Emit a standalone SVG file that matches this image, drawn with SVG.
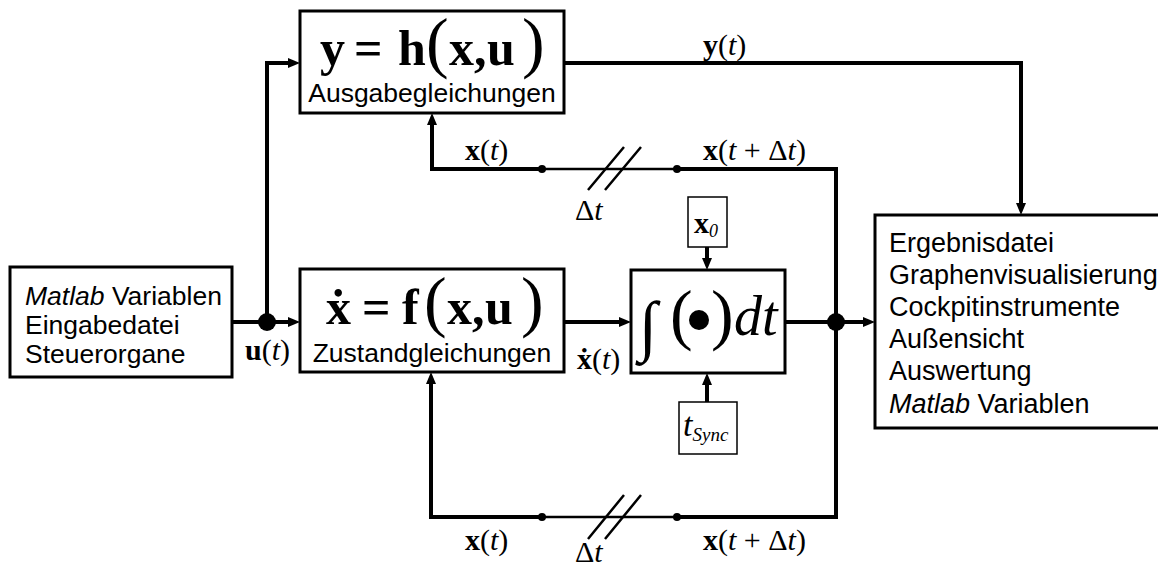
<svg xmlns="http://www.w3.org/2000/svg" width="1158" height="566" viewBox="0 0 1158 566">
<defs>
<marker id="ah" markerWidth="12" markerHeight="10" refX="6" refY="5" orient="auto" markerUnits="userSpaceOnUse"><path d="M0,0 L12,5 L0,10 Z" fill="#000"/></marker>
</defs>
<style>
.box{fill:#fff;stroke:#000;stroke-width:3}
.sbox{fill:#fff;stroke:#000;stroke-width:1.5}
.ln{fill:none;stroke:#000;stroke-width:4}
.arr{fill:none;stroke:#000;stroke-width:4;marker-end:url(#ah)}
.thin{fill:none;stroke:#000;stroke-width:2.5}
.sans{font-family:"Liberation Sans",Arial,sans-serif;font-size:26.5px}
.m{font-family:"Liberation Serif","Times New Roman",serif}
.b{font-weight:bold}
.i{font-style:italic}
.bp{font-size:68px;font-weight:normal}
</style>
<rect width="1158" height="566" fill="#fff"/>
<g id="connectors">
<path class="arr" d="M232,322 H294"/>
<path class="arr" d="M267,322 V63 H294"/>
<path class="arr" d="M564,322 H625"/>
<path class="arr" d="M785,322 H869"/>
<path class="arr" d="M564,63 H1021 V209"/>
<path class="ln" d="M836,322 V169 H677"/>
<path class="thin" d="M677,169 H542"/>
<path class="arr" d="M542,169 H432 V119"/>
<path class="ln" d="M836,322 V517 H677"/>
<path class="thin" d="M677,517 H542"/>
<path class="arr" d="M542,517 H431 V378"/>
<path class="arr" d="M707,247 V264"/>
<path class="arr" d="M707,402 V379"/>
<circle cx="267" cy="322" r="9"/>
<circle cx="836" cy="322" r="9"/>
<circle cx="542" cy="169" r="4"/>
<circle cx="677" cy="169" r="4"/>
<circle cx="542" cy="517" r="4"/>
<circle cx="677" cy="517" r="4"/>
<path class="thin" d="M588,190 L624,147 M605,190 L641,147"/>
<path class="thin" d="M588,539 L624,495 M605,539 L641,495"/>
<g class="m" font-size="30">
<text x="465" y="160"><tspan class="b">x</tspan>(<tspan class="i">t</tspan>)</text>
<text x="703" y="160"><tspan class="b">x</tspan>(<tspan class="i">t</tspan> + Δ<tspan class="i">t</tspan>)</text>
<text x="575" y="220">Δ<tspan class="i">t</tspan></text>
<text x="465" y="550"><tspan class="b">x</tspan>(<tspan class="i">t</tspan>)</text>
<text x="703" y="550"><tspan class="b">x</tspan>(<tspan class="i">t</tspan> + Δ<tspan class="i">t</tspan>)</text>
<text x="575" y="562">Δ<tspan class="i">t</tspan></text>
<text x="703" y="55"><tspan class="b">y</tspan>(<tspan class="i">t</tspan>)</text>
<text x="245" y="360"><tspan class="b">u</tspan>(<tspan class="i">t</tspan>)</text>
<text x="577" y="369"><tspan class="b">ẋ</tspan>(<tspan class="i">t</tspan>)</text>
</g>
</g>
<g id="input">
<rect class="box" x="10" y="267" width="222" height="110"/>
<text class="sans" x="25" y="305"><tspan class="i">Matlab</tspan> Variablen</text>
<text class="sans" x="25" y="334">Eingabedatei</text>
<text class="sans" x="25" y="363">Steuerorgane</text>
</g>
<g id="ausgabe">
<rect class="box" x="300" y="11" width="264" height="102"/>
<text class="m b" y="65" font-size="50"><tspan x="320">y</tspan><tspan x="354">=</tspan><tspan x="398">h</tspan><tspan x="426" class="bp">(</tspan><tspan x="449">x</tspan><tspan x="474">,</tspan><tspan x="487">u</tspan><tspan x="522" class="bp">)</tspan></text>
<text class="sans" x="432" y="102" text-anchor="middle">Ausgabegleichungen</text>
</g>
<g id="zustand">
<rect class="box" x="300" y="269" width="264" height="103"/>
<text class="m b" y="324" font-size="50"><tspan x="326">ẋ</tspan><tspan x="362">=</tspan><tspan x="402">f</tspan><tspan x="424" class="bp">(</tspan><tspan x="447">x</tspan><tspan x="472">,</tspan><tspan x="485">u</tspan><tspan x="521" class="bp">)</tspan></text>
<text class="sans" x="432" y="362" text-anchor="middle">Zustandgleichungen</text>
</g>
<g id="integrator">
<rect class="box" x="631" y="270" width="154" height="103"/>
<text class="m" x="639" y="348" font-size="67">∫</text>
<text class="m" x="670" y="337" font-size="68">(</text>
<circle cx="699" cy="320" r="10"/>
<text class="m" x="711" y="337" font-size="68">)</text>
<text class="m i" x="734" y="335" font-size="56">dt</text>
</g>
<g id="x0">
<rect class="sbox" x="688" y="197" width="39" height="50"/>
<text class="m" x="694" y="233" font-size="30"><tspan class="b">x</tspan><tspan class="i" font-size="18" dy="4">0</tspan></text>
</g>
<g id="tsync">
<rect class="sbox" x="679" y="402" width="58" height="52"/>
<text class="m i" x="683" y="436" font-size="34">t<tspan font-size="19" dy="5">Sync</tspan></text>
</g>
<g id="output">
<rect class="box" x="875" y="215" width="290" height="213"/>
<text class="sans" x="889" y="252" style="font-size:27px">Ergebnisdatei</text>
<text class="sans" x="889" y="284" style="font-size:27px">Graphenvisualisierung</text>
<text class="sans" x="889" y="316" style="font-size:27px">Cockpitinstrumente</text>
<text class="sans" x="889" y="348" style="font-size:27px">Außensicht</text>
<text class="sans" x="889" y="380" style="font-size:27px">Auswertung</text>
<text class="sans" x="889" y="413" style="font-size:27px"><tspan class="i">Matlab</tspan> Variablen</text>
</g>
</svg>
